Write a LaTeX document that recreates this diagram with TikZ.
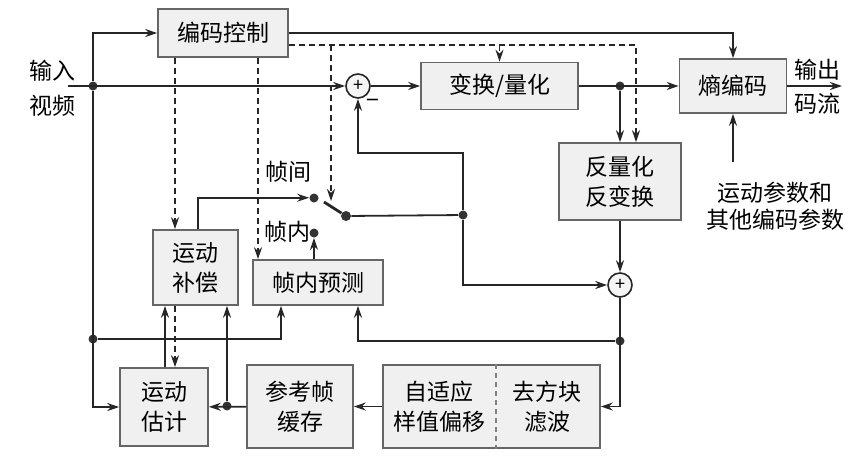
\documentclass[tikz,border=0pt]{standalone}
\usepackage{fontspec}
\setmainfont{Noto Sans CJK SC}
\usetikzlibrary{arrows.meta}
\tikzset{
  blk/.style={draw=black!60,fill=black!6,line width=0.8pt,align=center,inner sep=0pt,
    font=\fontsize{11.5}{15}\selectfont},
  txt/.style={align=center,inner sep=0pt,font=\fontsize{11.5}{15}\selectfont},
  flow/.style={draw=black!85,line width=0.9pt,-{Stealth[length=6pt,width=4pt]}},
  ctrl/.style={flow,dashed,dash pattern=on 3pt off 2pt},
  wire/.style={draw=black!85,line width=0.9pt},
  adder/.style={draw=black!85,fill=black!4,line width=0.8pt,circle,minimum size=12pt,inner sep=0pt,
    font=\fontsize{9}{9}\selectfont},
  jdot/.style={circle,fill=black!80,inner sep=0pt,minimum size=4.5pt}
}
\begin{document}
\begin{tikzpicture}[x=0.5pt,y=-0.5pt]
\useasboundingbox (0,0) rectangle (865,462);
\node[blk,minimum width=65pt,minimum height=24pt] (ctl) at (223,33) {编码控制};
\node[blk,minimum width=78.5pt,minimum height=23.5pt] (tq) at (499.5,86) {变换/量化};
\node[blk,minimum width=53.5pt,minimum height=27pt] (ent) at (733,86) {熵编码};
\node[blk,minimum width=61pt,minimum height=38.5pt] (iq) at (620,181.5) {反量化\\反变换};
\node[blk,minimum width=42.5pt,minimum height=37.5pt] (mc) at (195.5,267.5) {运动\\补偿};
\node[blk,minimum width=65pt,minimum height=22.5pt] (ip) at (318,282.5) {帧内预测};
\node[blk,minimum width=44pt,minimum height=39pt] (me) at (164,407) {运动\\估计};
\node[blk,minimum width=53pt,minimum height=41.5pt] (rf) at (300,406.5) {参考帧\\缓存};
\node[blk,minimum width=108.5pt,minimum height=41.5pt] (flt) at (491.5,406.5) {};
\node[txt] (sao) at (439,406.5) {自适应\\样值偏移};
\node[txt] (dbf) at (547,406.5) {去方块\\滤波};
\draw[draw=black!50,line width=0.6pt,dash pattern=on 2.5pt off 2pt] (flt.north -| 496,0) -- (flt.south -| 496,0);
\node[adder] (add1) at (358,86) {+};
\node[adder] (add2) at (620,285) {+};
\node[txt] (vin) at (52,88) [font=\fontsize{11.5}{17.5}\selectfont] {输入\\视频};
\node[txt] (vout) at (817,87) [font=\fontsize{11.5}{17}\selectfont] {输出\\码流};
\node[txt] (par) at (775,206.5) [font=\fontsize{11.5}{13.5}\selectfont] {运动参数和\\其他编码参数};
\node[txt] (inter) at (288,172) {帧间};
\node[txt] (intra) at (287,232) {帧内};
\node[txt] (minus) at (373,104) {−};
\coordinate (in) at (68,86);
\coordinate (out) at (842,86);
\coordinate (pr) at (733,162);
\coordinate (fb) at (463,153);
\coordinate (blade) at (324,202);
\coordinate (swc) at (331,201);
\node[jdot] (j1) at (93,86) {};
\node[jdot] (j2) at (93,339) {};
\node[jdot] (j3) at (620,86) {};
\node[jdot] (j4) at (463,215) {};
\node[jdot] (j5) at (620,341) {};
\node[jdot] (j6) at (227,406) {};
\node[jdot,minimum size=5pt] (sp) at (346,216) {};
\node[jdot] (ci) at (314,198) {};
\node[jdot] (cn) at (314,233) {};
\draw[flow] (in) -- (add1);
\draw[flow] (j1) |- (ctl.west);
\draw[flow] (j1) |- (me.west);
\draw[flow] (j2) -| ([xshift=-18.5pt]ip.south);
\draw[flow] (ctl.east) -| (ent.north);
\draw[ctrl] ([yshift=-6pt]ctl.east) -| ([xshift=8pt]iq.north);
\draw[ctrl] ([yshift=-6pt]ctl.east -| tq.north) -- (tq.north);
\draw[ctrl] ([yshift=-6pt]ctl.east -| swc) -- (swc);
\draw[ctrl] (ctl.south -| 175,0) -- (mc.north -| 175,0);
\draw[ctrl] (mc.south -| 175,0) -- (me.north -| 175,0);
\draw[ctrl] (ctl.south -| 258,0) -- (ip.north -| 258,0);
\draw[flow] (add1) -- (tq);
\draw[flow] (tq) -- (ent);
\draw[flow] (j3) -- (iq.north -| j3);
\draw[flow] (ent) -- (out);
\draw[flow] (pr) -- (ent.south);
\draw[flow] (iq) -- (add2);
\draw[flow] (j4) |- (add2);
\draw[flow] (j4) -- (fb) -| (add1);
\draw[wire] (sp) -- (j4);
\draw[wire,line width=1.4pt] (sp) -- (blade);
\draw[flow] (mc.north -| 198,0) |- ([xshift=-2.5pt,yshift=3pt]ci);
\draw[flow] (ip.north -| cn) -- (cn);
\draw[flow] (add2) |- (flt.east);
\draw[flow] (j5) -| ([xshift=20pt]ip.south);
\draw[flow] (flt) -- (rf);
\draw[flow] (rf) -- (me);
\draw[flow] (j6) -- (mc.south -| j6);
\draw[flow] (me.north -| 165,0) -- (mc.south -| 165,0);
\end{tikzpicture}
\end{document}
